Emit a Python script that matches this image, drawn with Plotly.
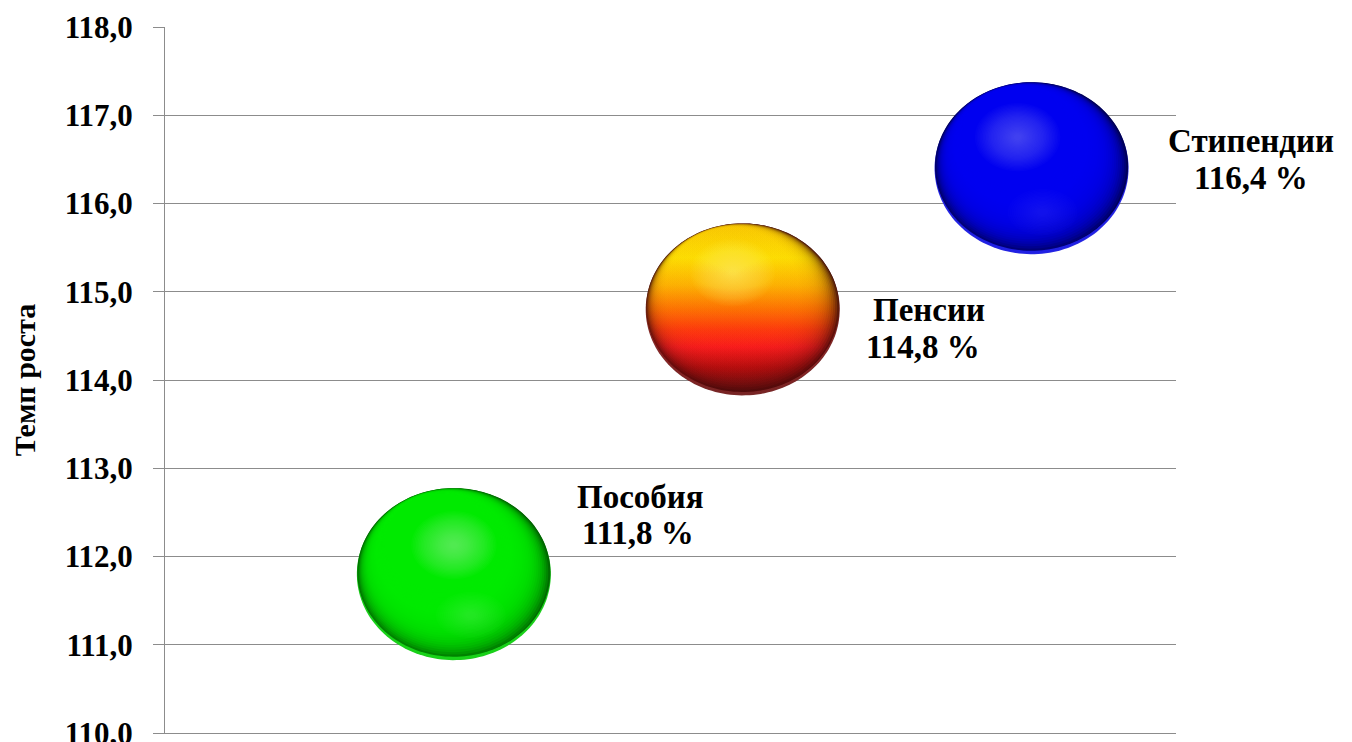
import numpy as np
import plotly.graph_objects as go

# ---- data ----
categories = ["Пособия", "Пенсии", "Стипендии"]
x_pos = [1, 2, 3]
values = [111.8, 114.8, 116.4]
y_ticks = [110, 111, 112, 113, 114, 115, 116, 117, 118]
y_title = "Темп роста"

# ---- style ----
W, H = 1352, 742
ML, MR, MT, MB = 157, 184, 19, 17
X_RANGE = [0, 3.5]
Y_RANGE = [110, 118]
GRID = "#8c8c8c"
FONT = "Liberation Serif"

px_x = (W - ML - MR) / (X_RANGE[1] - X_RANGE[0])
px_y = (H - MT - MB) / (Y_RANGE[1] - Y_RANGE[0])

RX, RY = 97, 86          # sphere semi-axes in pixels
N_BODY = 30
STEP = 0.015
ALPHA = 0.18
UX, UY = 0.35, 0.85      # body layer drift (left, up)

spheres = [
    dict(rim="rgb(30,205,30)", shadow="rgb(0,80,0)",
         body=[[0, "rgb(0,228,0)"], [1, "rgb(0,240,0)"]],
         hl=(0, 29, (150, 255, 150)), hl2=(17, -41, (110, 255, 110))),
    dict(rim="rgb(120,40,40)", shadow="rgb(60,8,8)",
         body=[[0, "rgb(112,16,16)"], [0.16, "rgb(192,16,16)"], [0.28, "rgb(250,30,30)"],
               [0.38, "rgb(255,60,16)"], [0.5, "rgb(255,115,0)"], [0.64, "rgb(255,178,0)"],
               [0.8, "rgb(255,222,0)"], [1, "rgb(250,200,0)"]],
         hl=(-10, 37, (255, 255, 120)), hl2=None),
    dict(rim="rgb(40,40,225)", shadow="rgb(0,0,60)",
         body=[[0, "rgb(0,0,232)"], [1, "rgb(0,0,242)"]],
         hl=(-14, 31, (130, 130, 255)), hl2=(11, -44, (90, 90, 255))),
]

name_shift = [(187, 77), (186, -1), (219, 27)]
value_shift = [(184, 41), (180, -38), (219, -10)]


def with_alpha(c, a):
    return c.replace("rgb(", "rgba(").replace(")", ",%.3f)" % a)


theta = np.linspace(0, 2 * np.pi, 160)


def ellipse(xc, yc, cx_px, cy_px, rx_px, ry_px):
    ex = xc + (cx_px + rx_px * np.cos(theta)) / px_x
    ey = yc + (cy_px + ry_px * np.sin(theta)) / px_y
    return ex, ey


fig = go.Figure()


def add_fill(ex, ey, color=None, gradient=None):
    kw = dict(x=ex, y=ey, mode="none", fill="toself", hoverinfo="skip", showlegend=False)
    if gradient is not None:
        kw["fillgradient"] = gradient
        kw["fillcolor"] = gradient["colorscale"][0][1]
    else:
        kw["fillcolor"] = color
    fig.add_trace(go.Scatter(**kw))


for xc, yc, sp in zip(x_pos, values, spheres):
    # thin reflective rim and dark shadow
    add_fill(*ellipse(xc, yc, 0, 0, RX, RY), color=sp["rim"])
    add_fill(*ellipse(xc, yc, 0, 0.02 * RY, 0.995 * RX, 0.98 * RY), color=sp["shadow"])
    # body
    y_lo = yc - RY / px_y
    y_hi = yc + RY / px_y
    for i in range(0, N_BODY):
        s = 1 - STEP * i - 0.005
        ex, ey = ellipse(xc, yc, -UX * (1 - s) * RX, UY * (1 - s) * RY, s * RX, s * RY)
        cs = [[p, with_alpha(c, ALPHA)] for p, c in sp["body"]]
        if len(sp["body"]) > 2:
            add_fill(ex, ey, gradient=dict(type="vertical", colorscale=cs, start=y_lo, stop=y_hi))
        else:
            add_fill(ex, ey, color=with_alpha(sp["body"][1][1], ALPHA))
    # soft highlight glow
    hx, hy, hc = sp["hl"]
    for j in range(26):
        f = 0.44 - 0.016 * j
        add_fill(*ellipse(xc, yc, hx, hy, f * RX, f * RY * 0.9),
                 color="rgba(%d,%d,%d,0.03)" % hc)
    if sp["hl2"] is not None:
        hx, hy, hc = sp["hl2"]
        for j in range(16):
            f = 0.36 - 0.02 * j
            add_fill(*ellipse(xc, yc, hx, hy, f * RX, f * RY * 0.75),
                     color="rgba(%d,%d,%d,0.025)" % hc)

# data points (invisible carriers for hover)
fig.add_trace(go.Scatter(
    x=x_pos, y=values, mode="markers", marker=dict(size=1, opacity=0),
    text=categories, hovertemplate="%{text}: %{y}<extra></extra>", showlegend=False,
))

label_font = dict(family=FONT, size=33, color="black", weight="bold")
for xc, yc, name, (nx, ny), (vx, vy) in zip(x_pos, values, categories, name_shift, value_shift):
    fig.add_annotation(x=xc, y=yc, xref="x", yref="y", text=name, showarrow=False,
                       xshift=nx, yshift=ny, font=label_font)
    fig.add_annotation(x=xc, y=yc, xref="x", yref="y",
                       text=f"{yc:.1f}".replace(".", ",") + " %", showarrow=False,
                       xshift=vx, yshift=vy, font=label_font)

fig.update_layout(
    width=W, height=H,
    margin=dict(l=ML, r=MR, t=MT, b=MB),
    paper_bgcolor="white", plot_bgcolor="white",
    separators=", ",
    showlegend=False,
    xaxis=dict(range=X_RANGE, showgrid=False, zeroline=False, showticklabels=False,
               showline=True, linecolor=GRID, linewidth=1, fixedrange=True,
               automargin=False),
    yaxis=dict(range=Y_RANGE, tickvals=y_ticks, tickformat=".1f",
               showgrid=True, gridcolor=GRID, gridwidth=1, zeroline=False,
               showline=True, linecolor=GRID, linewidth=1,
               ticks="outside", ticklen=11, tickcolor=GRID,
               ticklabelstandoff=14, automargin=False, ticklabeloverflow="allow",
               tickfont=dict(family=FONT, size=31, color="black", weight="bold"),
               title=dict(text=y_title, standoff=20,
                          font=dict(family=FONT, size=30, color="black", weight="bold")),
               fixedrange=True),
)

fig.write_html("out.html")
